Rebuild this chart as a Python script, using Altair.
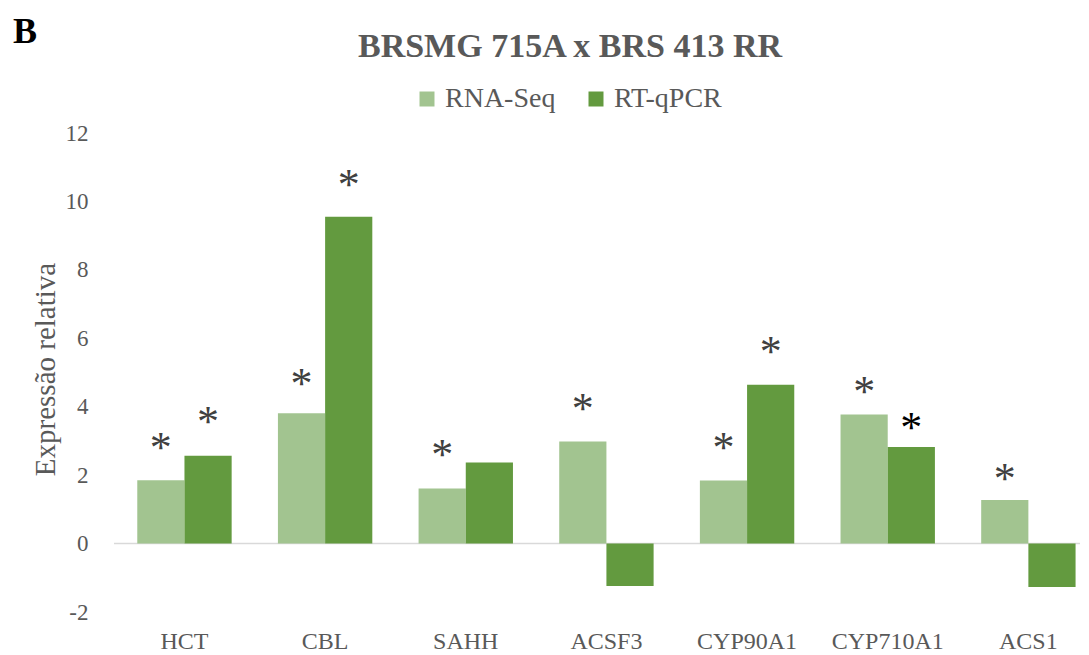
import altair as alt
import pandas as pd

genes = ["HCT", "CBL", "SAHH", "ACSF3", "CYP90A1", "CYP710A1", "ACS1"]
series = ["RNA-Seq", "RT-qPCR"]
rna_seq = [1.85, 3.81, 1.61, 2.98, 1.84, 3.77, 1.27]
rt_qpcr = [2.57, 9.55, 2.37, -1.24, 4.64, 2.82, -1.27]
# vertical position (data units) of the significance asterisks, None = no asterisk
rna_star = [2.97, 4.85, 2.75, 4.11, 2.97, 4.61, 2.05]
qpcr_star = [3.72, 10.67, None, None, 5.78, 3.55, None]
y_ticks = [-2, 0, 2, 4, 6, 8, 10, 12]

rows = []
for g, a, b, sa, sb in zip(genes, rna_seq, rt_qpcr, rna_star, qpcr_star):
    rows.append({"gene": g, "series": series[0], "value": a, "star": sa})
    rows.append({"gene": g, "series": series[1], "value": b, "star": sb})
df = pd.DataFrame(rows)

LIGHT = "#A2C490"
DARK = "#639A3F"
GREY = "#595959"
FONT = "Liberation Serif"

x_enc = alt.X(
    "gene:N",
    sort=genes,
    scale=alt.Scale(paddingInner=0.329, paddingOuter=0.0985, align=0.84),
    axis=alt.Axis(
        title=None, labelAngle=0, domain=False, ticks=False,
        labelFontSize=24, labelColor=GREY, labelFont=FONT, labelPadding=17,
    ),
)
xoff_enc = alt.XOffset("series:N", sort=series,
                       scale=alt.Scale(paddingInner=0, paddingOuter=0))
y_scale = alt.Scale(domain=[-2, 12], nice=False, zero=False)

zero_line = alt.Chart(pd.DataFrame({"z": [0]})).mark_rule(
    color="#D9D9D9", strokeWidth=1.5
).encode(y=alt.datum(0, scale=y_scale))

bars = alt.Chart(df).mark_bar().encode(
    x=x_enc,
    xOffset=xoff_enc,
    y=alt.Y(
        "value:Q",
        scale=y_scale,
        axis=alt.Axis(
            values=y_ticks, grid=False, domain=False, ticks=False,
            labelExpr="datum.value", labelFontSize=23, labelColor=GREY,
            labelFont=FONT, labelPadding=26,
            title="Expressão relativa", titleFontSize=29, titleFontWeight="normal",
            titleColor=GREY, titleFont=FONT, titleX=-69, titleY=236,
            titleBaseline="middle",
        ),
    ),
    color=alt.Color(
        "series:N",
        scale=alt.Scale(domain=series, range=[LIGHT, DARK]),
        legend=alt.Legend(
            orient="none", legendX=299, legendY=-48, direction="horizontal",
            title=None, symbolType="square", symbolSize=225, symbolStrokeWidth=0,
            labelFontSize=28, labelColor=GREY, labelFont=FONT, labelOffset=4,
            columnPadding=26,
        ),
    ),
)

stars = alt.Chart(df).transform_filter("isValid(datum.star)").mark_text(
    font=FONT, fontSize=44, baseline="alphabetic", dy=20
).encode(
    x=x_enc,
    xOffset=xoff_enc,
    y=alt.Y("star:Q", scale=y_scale),
    text=alt.value("*"),
    color=alt.condition(
        "datum.gene == 'CYP710A1' && datum.series == 'RT-qPCR'",
        alt.value("#000000"), alt.value("#404040"),
    ),
)

title = alt.Chart(pd.DataFrame({"t": ["BRSMG 715A x BRS 413 RR"]})).mark_text(
    font=FONT, fontSize=34, fontWeight="bold", color=GREY,
    align="center", baseline="alphabetic",
).encode(x=alt.value(456), y=alt.value(-76), text="t:N")

panel = alt.Chart(pd.DataFrame({"t": ["B"]})).mark_text(
    font=FONT, fontSize=36, fontWeight="bold", color="#000000",
    align="left", baseline="alphabetic",
).encode(x=alt.value(-101), y=alt.value(-90), text="t:N")

chart = alt.layer(zero_line, bars, stars, title, panel).properties(
    width=966,
    height=479,
    autosize=alt.AutoSizeParams(type="none"),
    padding={"left": 106, "top": 125, "right": 0, "bottom": 44},
).configure(font=FONT).configure_view(stroke=None)

chart.save("out.html", embed_options={"renderer": "svg", "actions": False})
